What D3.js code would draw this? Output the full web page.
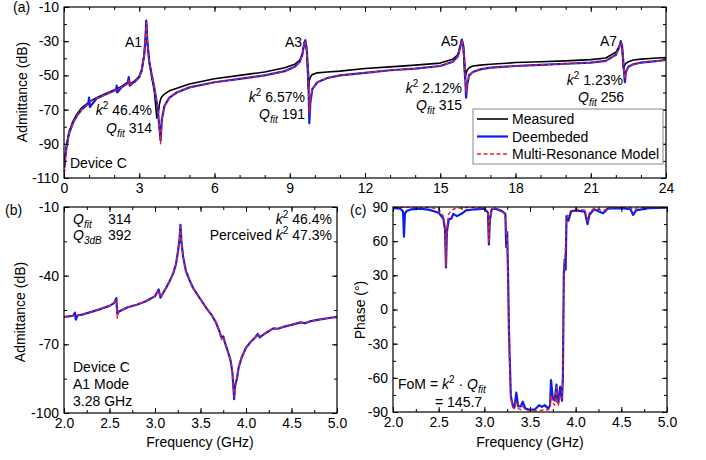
<!DOCTYPE html>
<html>
<head>
<meta charset="utf-8">
<script src="https://cdn.jsdelivr.net/npm/d3@7"></script>
<style>
  body { margin: 0; background: #fff; }
  svg { display: block; font-family: "Liberation Sans", Arial, sans-serif; }
  .tick text { font-size: 14px; fill: #000; font-family: "Liberation Sans", Arial, sans-serif; }
  .tick line { stroke: #000; }
  .ann { font-size: 14px; fill: #000; }
</style>
</head>
<body>
<div id="chart"></div>
<script>
  // (a) wideband admittance, 0-24 GHz
  var freqA = [0.02, 0.05, 0.1, 0.2, 0.35, 0.5, 0.7, 0.97, 1.0, 1.03, 1.3, 1.6, 2.0, 2.08, 2.1, 2.12, 2.3, 2.55, 2.58, 2.62,
    2.8, 3.0, 3.1, 3.2, 3.25, 3.28, 3.32, 3.4, 3.5, 3.6, 3.7, 3.75, 3.8, 3.85, 3.9, 4.0, 4.2, 4.5, 5.0, 6.0,
    7.0, 8.0, 8.8, 9.2, 9.4, 9.5, 9.58, 9.62, 9.68, 9.74, 9.78, 9.82, 9.9, 10.1, 10.5, 11, 12, 13, 14, 15,
    15.5, 15.7, 15.82, 15.86, 15.92, 15.98, 16.03, 16.07, 16.15, 16.3, 16.6, 17, 18, 19, 20, 21, 21.6, 22.0, 22.15, 22.2,
    22.25, 22.3, 22.36, 22.4, 22.5, 22.7, 23, 23.5, 24];
  var measA = [-103, -97, -91, -83, -77, -73, -69, -66, -65.5, -65.3, -63, -61, -58.5, -58, -57.8, -57.6, -56.5, -54, -52, -55,
    -53.5, -50.5, -46.5, -37.5, -28, -18, -30, -42, -51, -59, -75, -74, -67, -64, -62.5, -61, -59, -57.5, -55, -52,
    -50, -48, -45.5, -43.5, -41, -37.5, -31, -29.5, -36, -58, -53, -51, -49.5, -48.5, -48, -47.5, -46, -45, -44, -42.8,
    -40.5, -38, -31.5, -29, -33, -52, -49, -47, -45.5, -44.5, -44, -43.5, -42.5, -42, -41.5, -40.8, -39.8, -36.5, -32.5, -30,
    -33, -46, -44, -43, -42, -41, -40.5, -40, -39.5];
  var deembA = [-104, -98, -92, -84, -78, -74, -70, -66.5, -63, -68.5, -63.5, -61.5, -59, -58.5, -56, -60, -57, -54, -51, -56,
    -54, -51, -47, -38, -28, -18, -30, -42, -50, -57, -66, -72, -80, -88, -76, -68, -63, -60, -57, -54,
    -52, -50, -47.5, -45, -42, -38, -31, -29.5, -35, -50, -78, -66, -58, -54, -51.5, -50, -48.5, -47, -46, -44.5,
    -42, -39, -32, -29, -33, -45, -63, -56, -50, -48, -46.5, -45.5, -44.5, -43.8, -43.2, -42.5, -41.5, -38, -33, -30,
    -33, -42, -54, -48, -45, -43.5, -42.5, -41.8, -41];
  var modelA = [-107, -99, -92, -84, -78, -74, -70, -66.5, -66, -65.5, -63.5, -61.5, -59, -58.5, -58.3, -58, -57, -55, -53, -56,
    -54, -51, -47, -38, -28, -19, -30, -42, -50, -57, -66, -72, -80, -90, -77, -68, -63, -60, -57, -54,
    -52, -50, -47.5, -45, -42, -38, -31, -30, -35, -50, -72, -64, -58, -54, -51.5, -50, -48.5, -47, -46, -44.5,
    -42, -39, -32, -29.5, -33, -45, -60, -55, -50, -48, -46.5, -45.5, -44.5, -43.8, -43.2, -42.5, -41.5, -38, -33, -30.5,
    -33, -42, -52, -48, -45, -43.5, -42.5, -41.8, -41];

  // (b) A1 admittance zoom, 2-5 GHz
  var freqB = [2.0, 2.05, 2.1, 2.12, 2.13, 2.15, 2.2, 2.3, 2.4, 2.5, 2.55, 2.575, 2.585, 2.6, 2.65, 2.7, 2.8, 2.9, 3.0, 3.04,
    3.06, 3.08, 3.12, 3.16, 3.2, 3.23, 3.25, 3.27, 3.28, 3.29, 3.31, 3.34, 3.38, 3.42, 3.47, 3.52, 3.57, 3.62, 3.67, 3.71,
    3.73, 3.75, 3.77, 3.8, 3.83, 3.85, 3.87, 3.88, 3.9, 3.92, 3.95, 4.0, 4.05, 4.1, 4.13, 4.15, 4.2, 4.3, 4.35, 4.4,
    4.5, 4.6, 4.65, 4.7, 4.8, 4.9, 5.0];
  var deembB = [-58, -57.8, -57.5, -56.2, -59.2, -57.3, -57, -55.8, -54.6, -53.2, -52, -49.8, -56.5, -55.8, -54.8, -53.8, -52.7, -51.2, -49, -46,
    -49.6, -48.2, -45.5, -42.5, -39, -35, -30, -24, -17.8, -25, -32, -38, -42, -45.5, -48.5, -51.5, -54.5, -57, -60.5, -64.5,
    -67, -66.5, -69.5, -73, -77, -82, -94, -88, -85, -80, -76, -71.5, -69, -67, -65.5, -67, -65.5, -63, -63.2, -62.5,
    -61.5, -60.4, -60.8, -60, -59.2, -58.6, -58];
  var modelB = [-58, -57.8, -57.5, -57.3, -57.6, -57.3, -57, -55.8, -54.6, -53.2, -52, -50.5, -58.5, -56, -54.8, -53.8, -52.7, -51.2, -49, -46.5,
    -49.5, -48.2, -45.5, -42.5, -39, -35, -30, -24, -18.5, -25, -32, -38, -42, -45.5, -48.5, -51.5, -54.5, -57, -60.5, -64.5,
    -68, -66.5, -69.5, -73, -77, -82, -93, -90, -84, -80, -76, -71.5, -69, -67, -65.5, -66.5, -65.5, -63, -63.2, -62.5,
    -61.5, -60.4, -60.6, -60, -59.2, -58.6, -58];

  // (c) phase, 2-5 GHz
  var freqC = [2.0, 2.08, 2.11, 2.12, 2.13, 2.15, 2.2, 2.3, 2.4, 2.5, 2.55, 2.57, 2.58, 2.59, 2.61, 2.64, 2.66, 2.7, 2.75, 2.8,
    2.9, 3.0, 3.04, 3.05, 3.06, 3.08, 3.12, 3.2, 3.23, 3.24, 3.25, 3.26, 3.27, 3.29, 3.31, 3.33, 3.35, 3.37, 3.4, 3.42,
    3.45, 3.5, 3.55, 3.6, 3.63, 3.66, 3.7, 3.72, 3.73, 3.75, 3.77, 3.79, 3.8, 3.81, 3.83, 3.85, 3.86, 3.87, 3.88, 3.89,
    3.9, 3.92, 3.95, 4.0, 4.1, 4.13, 4.15, 4.2, 4.3, 4.32, 4.35, 4.5, 4.6, 4.63, 4.66, 4.8, 5.0];
  var phaseDeemb = [89, 88.5, 86, 64, 84, 86.5, 88, 88.5, 87.5, 85, 80, 70, 37, 68, 79, 80, 84, 82, 84, 87,
    88, 88.5, 85, 57, 78, 88, 88.5, 86, 84, 55, 68, 30, -20, -76, -84, -86, -73, -85, -85, -81,
    -87, -88, -88, -84, -85.5, -84, -87, -84, -62, -78, -80, -66, -81, -82, -68, -80, -60, 30, 44, 35,
    82, 78, 86, 87, 86, 75, 83, 88, 84.5, 86, 88.5, 89, 88, 83, 87, 89, 89.5];
  var phaseModel = [90, 90, 89.5, 89, 89.5, 90, 90, 90, 89.5, 88, 82, 74, 38, 72, 84, 87, 88, 89, 89, 89.5,
    89.5, 89, 86, 58, 80, 88, 89, 87, 82, 70, 60, 20, -30, -78, -86, -87, -80, -87, -88, -85,
    -88, -89, -89, -89, -88.5, -88, -88, -86, -75, -82, -84, -68, -83, -84, -75, -78, -50, 20, 45, 55,
    78, 84, 87, 88, 87.5, 78, 85, 89, 87, 87.5, 89, 90, 89.5, 88, 89, 90, 90];

  // tick labels
  var aXTicks = [0, 3, 6, 9, 12, 15, 18, 21, 24];
  var aYTicks = [-110, -90, -70, -50, -30, -10];
  var bcXTicks = [2.0, 2.5, 3.0, 3.5, 4.0, 4.5, 5.0];
  var bYTicks = [-100, -70, -40, -10];
  var cYTicks = [-90, -60, -30, 0, 30, 60, 90];

  var legendNames = ["Measured", "Deembeded", "Multi-Resonance Model"];

  var W = 706, H = 460;
  var svg = d3.select("#chart").append("svg")
      .attr("width", W)
      .attr("height", H);

  var styles = {
    meas: {color: "#000", width: 1.6, dash: null},
    deemb: {color: "#0a1ef0", width: 2.2, dash: null},
    model: {color: "#ee2020", width: 1.4, dash: "4,2.5"}
  };

  function fmtInt(d) { return String(d); }
  function fmt1(d) { return d.toFixed(1); }

  function panel(p) {
    var x = d3.scaleLinear().domain(p.xDomain).range([p.left, p.right]);
    var y = d3.scaleLinear().domain(p.yDomain).range([p.bottom, p.top]);
    var g = svg.append("g");

    g.append("clipPath").attr("id", "clip-" + p.name)
      .append("rect")
        .attr("x", p.left).attr("y", p.top)
        .attr("width", p.right - p.left).attr("height", p.bottom - p.top);

    var lines = g.append("g").attr("clip-path", "url(#clip-" + p.name + ")");
    p.series.forEach(function(s) {
      var pts = s.x.map(function(v, i) { return [v, s.y[i]]; });
      lines.append("path")
        .datum(pts)
        .attr("fill", "none")
        .attr("stroke", s.style.color)
        .attr("stroke-width", s.style.width)
        .attr("stroke-dasharray", s.style.dash)
        .attr("stroke-linejoin", "round")
        .attr("d", d3.line().x(function(d) { return x(d[0]); }).y(function(d) { return y(d[1]); }));
    });

    function strip(sel) { sel.select(".domain").remove(); }

    // minor ticks, all four sides
    g.append("g").attr("transform", "translate(0," + p.bottom + ")")
      .call(d3.axisBottom(x).tickValues(p.xMinor).tickSize(-3).tickFormat("")).call(strip);
    g.append("g").attr("transform", "translate(0," + p.top + ")")
      .call(d3.axisTop(x).tickValues(p.xMinor).tickSize(-3).tickFormat("")).call(strip);
    g.append("g").attr("transform", "translate(" + p.left + ",0)")
      .call(d3.axisLeft(y).tickValues(p.yMinor).tickSize(-3).tickFormat("")).call(strip);
    g.append("g").attr("transform", "translate(" + p.right + ",0)")
      .call(d3.axisRight(y).tickValues(p.yMinor).tickSize(-3).tickFormat("")).call(strip);

    // major ticks
    g.append("g").attr("transform", "translate(0," + p.bottom + ")")
      .call(d3.axisBottom(x).tickValues(p.xTicks).tickSize(-5).tickPadding(5).tickFormat(p.xFmt)).call(strip);
    g.append("g").attr("transform", "translate(0," + p.top + ")")
      .call(d3.axisTop(x).tickValues(p.xTicks).tickSize(-5).tickFormat("")).call(strip);
    g.append("g").attr("transform", "translate(" + p.left + ",0)")
      .call(d3.axisLeft(y).tickValues(p.yTicks).tickSize(-5).tickPadding(5).tickFormat(fmtInt)).call(strip);
    g.append("g").attr("transform", "translate(" + p.right + ",0)")
      .call(d3.axisRight(y).tickValues(p.yTicks).tickSize(-5).tickFormat("")).call(strip);

    g.selectAll(".tick text").attr("font-size", 14).attr("font-family", null);

    g.append("rect")
      .attr("x", p.left).attr("y", p.top)
      .attr("width", p.right - p.left).attr("height", p.bottom - p.top)
      .attr("fill", "none").attr("stroke", "#000").attr("stroke-width", 1.2);

    return {x: x, y: y, g: g};
  }

  // rich text: parts are [text, kind] with kind "", "i", "sub", "sup"
  function rich(x, y, anchor, parts) {
    var t = svg.append("text").attr("class", "ann")
      .attr("x", x).attr("y", y).attr("text-anchor", anchor);
    var shift = 0;
    parts.forEach(function(pt) {
      var kind = pt[1] || "";
      var want = kind.indexOf("sub") >= 0 ? 4 : kind.indexOf("sup") >= 0 ? -6 : 0;
      var ts = t.append("tspan").text(pt[0]).attr("dy", want - shift);
      shift = want;
      if (kind.indexOf("i") >= 0) ts.attr("font-style", "italic");
      if (kind.indexOf("sub") >= 0 || kind.indexOf("sup") >= 0) ts.attr("font-size", 10);
    });
    return t;
  }

  function k2(val) { return [["k", "i"], ["2", "sup"], [" " + val]]; }
  function qfit(val) { return [["Q", "i"], ["fit", "isub"], [" " + val]]; }

  // ----- panel (a)
  panel({
    name: "a", left: 64, right: 666, top: 7, bottom: 178,
    xDomain: [0, 24], yDomain: [-110, -10],
    xTicks: aXTicks, yTicks: aYTicks,
    xMinor: d3.range(0, 25, 1), yMinor: d3.range(-110, -9, 10),
    xFmt: fmtInt,
    series: [
      {x: freqA, y: measA, style: styles.meas},
      {x: freqA, y: deembA, style: styles.deemb},
      {x: freqA, y: modelA, style: styles.model}
    ]
  });

  rich(13, 12, "start", [["(a)"]]);
  rich(142, 47, "end", [["A1"]]);
  rich(302, 47, "end", [["A3"]]);
  rich(458, 46, "end", [["A5"]]);
  rich(617, 46, "end", [["A7"]]);
  rich(152, 115, "end", k2("46.4%"));
  rich(152, 133, "end", qfit("314"));
  rich(305, 102, "end", k2("6.57%"));
  rich(305, 119, "end", qfit("191"));
  rich(462, 93, "end", k2("2.12%"));
  rich(462, 110, "end", qfit("315"));
  rich(623, 85, "end", k2("1.23%"));
  rich(624, 102, "end", qfit("256"));
  rich(70, 168, "start", [["Device C"]]);

  svg.append("text").attr("class", "ann")
    .attr("transform", "translate(27,92) rotate(-90)")
    .attr("text-anchor", "middle")
    .text("Admittance (dB)");

  // legend
  var lg = svg.append("g").attr("transform", "translate(473,109)");
  lg.append("rect").attr("width", 190).attr("height", 55)
    .attr("fill", "#fff").attr("stroke", "#888").attr("stroke-width", 1);
  [styles.meas, styles.deemb, styles.model].forEach(function(st, i) {
    var yy = 10 + i * 17.5;
    lg.append("line").attr("x1", 4).attr("x2", 35).attr("y1", yy).attr("y2", yy)
      .attr("stroke", st.color).attr("stroke-width", st.width).attr("stroke-dasharray", st.dash);
    lg.append("text").attr("class", "ann").attr("x", 39).attr("y", yy + 5).text(legendNames[i]);
  });

  // ----- panel (b)
  panel({
    name: "b", left: 64, right: 337, top: 207, bottom: 413,
    xDomain: [2, 5], yDomain: [-100, -10],
    xTicks: bcXTicks, yTicks: bYTicks,
    xMinor: d3.range(8, 21).map(function(d) { return d / 4; }), yMinor: d3.range(-100, -9, 15),
    xFmt: fmt1,
    series: [
      {x: freqB, y: deembB, style: styles.deemb},
      {x: freqB, y: modelB, style: styles.model}
    ]
  });

  rich(5, 215, "start", [["(b)"]]);
  rich(73, 224, "start", [["Q", "i"], ["fit", "isub"]]);
  rich(108, 224, "start", [["314"]]);
  rich(73, 240, "start", [["Q", "i"], ["3dB", "isub"]]);
  rich(108, 240, "start", [["392"]]);
  rich(332, 224, "end", k2("46.4%"));
  rich(332, 240, "end", [["Perceived "]].concat(k2("47.3%")));
  rich(73, 372, "start", [["Device C"]]);
  rich(73, 389, "start", [["A1 Mode"]]);
  rich(73, 406, "start", [["3.28 GHz"]]);

  svg.append("text").attr("class", "ann")
    .attr("transform", "translate(25,312) rotate(-90)")
    .attr("text-anchor", "middle")
    .text("Admittance (dB)");
  svg.append("text").attr("class", "ann")
    .attr("x", 200).attr("y", 447).attr("text-anchor", "middle")
    .text("Frequency (GHz)");

  // ----- panel (c)
  panel({
    name: "c", left: 393, right: 667, top: 207, bottom: 412,
    xDomain: [2, 5], yDomain: [-90, 90],
    xTicks: bcXTicks, yTicks: cYTicks,
    xMinor: d3.range(8, 21).map(function(d) { return d / 4; }), yMinor: d3.range(-90, 91, 15),
    xFmt: fmt1,
    series: [
      {x: freqC, y: phaseDeemb, style: styles.deemb},
      {x: freqC, y: phaseModel, style: styles.model}
    ]
  });

  rich(350, 215, "start", [["(c)"]]);
  rich(398, 389, "start", [["FoM = "], ["k", "i"], ["2", "sup"], [" · "], ["Q", "i"], ["fit", "isub"]]);
  rich(435, 407, "start", [["= 145.7"]]);

  svg.append("text").attr("class", "ann")
    .attr("transform", "translate(365,310) rotate(-90)")
    .attr("text-anchor", "middle")
    .text("Phase (°)");
  svg.append("text").attr("class", "ann")
    .attr("x", 530).attr("y", 447).attr("text-anchor", "middle")
    .text("Frequency (GHz)");
</script>
</body>
</html>
